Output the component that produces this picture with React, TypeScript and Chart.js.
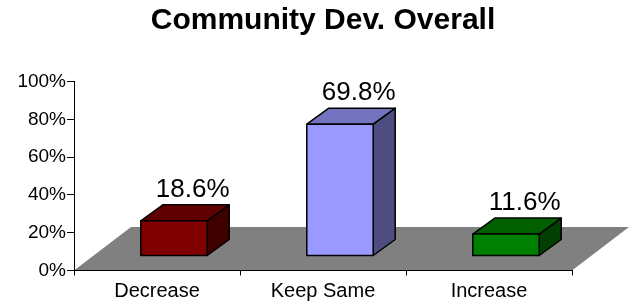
import React, { useEffect, useRef } from "react";
import { Chart, registerables } from "chart.js";

Chart.register(...registerables);

const titleText = "Community Dev. Overall";
const categories = ["Decrease", "Keep Same", "Increase"];
const values = [18.6, 69.8, 11.6];
const yTickValues = [0, 20, 40, 60, 80, 100];

const frontColors = ["#800000", "#9999FF", "#008000"];
const topColors = ["#600000", "#7373C0", "#006000"];
const sideColors = ["#400000", "#4D4D80", "#004000"];

// 3D projection constants (pixels)
const FLOOR_DX = 57;
const FLOOR_DY = -43.5;
const BAR_OFF_DX = 17;
const BAR_OFF_DY = -14.5;
const BAR_DX = 22;
const BAR_DY = -16;

const FONT = '"Liberation Sans", Arial, Helvetica, sans-serif';

const threeDPlugin = {
  id: "threeD",
  beforeDraw(chart: any) {
    const { ctx, chartArea: ca } = chart;
    ctx.save();
    ctx.fillStyle = "#808080";
    ctx.beginPath();
    ctx.moveTo(ca.left, ca.bottom);
    ctx.lineTo(ca.right, ca.bottom);
    ctx.lineTo(ca.right + FLOOR_DX, ca.bottom + FLOOR_DY);
    ctx.lineTo(ca.left + FLOOR_DX, ca.bottom + FLOOR_DY);
    ctx.closePath();
    ctx.fill();
    ctx.restore();
  },
  beforeDatasetDraw(chart: any, args: any) {
    const { ctx } = chart;
    const meta = args.meta;
    const ds = chart.data.datasets[args.index];
    ctx.save();
    ctx.lineWidth = 1.5;
    ctx.lineJoin = "round";
    ctx.strokeStyle = "#000000";
    meta.data.forEach((el: any, i: number) => {
      const { x, y, base, width } = el.getProps(["x", "y", "base", "width"], true);
      const l = x - width / 2 + BAR_OFF_DX;
      const r = x + width / 2 + BAR_OFF_DX;
      const t = y + BAR_OFF_DY;
      const b = base + BAR_OFF_DY;
      // side face
      ctx.fillStyle = sideColors[i];
      ctx.beginPath();
      ctx.moveTo(r, t);
      ctx.lineTo(r + BAR_DX, t + BAR_DY);
      ctx.lineTo(r + BAR_DX, b + BAR_DY);
      ctx.lineTo(r, b);
      ctx.closePath();
      ctx.fill();
      ctx.stroke();
      // top face
      ctx.fillStyle = topColors[i];
      ctx.beginPath();
      ctx.moveTo(l, t);
      ctx.lineTo(l + BAR_DX, t + BAR_DY);
      ctx.lineTo(r + BAR_DX, t + BAR_DY);
      ctx.lineTo(r, t);
      ctx.closePath();
      ctx.fill();
      ctx.stroke();
      // front face
      ctx.fillStyle = ds.backgroundColor[i];
      ctx.beginPath();
      ctx.rect(l, t, r - l, b - t);
      ctx.fill();
      ctx.stroke();
      // value label
      ctx.fillStyle = "#000000";
      ctx.font = `26px ${FONT}`;
      ctx.textAlign = "center";
      ctx.textBaseline = "alphabetic";
      ctx.fillText(`${ds.data[i].toFixed(1)}%`, (l + r) / 2 + BAR_DX * 0.85, t + BAR_DY - 8);
    });
    ctx.restore();
    return false;
  },
};

export default function App() {
  const canvasRef = useRef<HTMLCanvasElement | null>(null);

  useEffect(() => {
    if (!canvasRef.current) return;
    const chart = new Chart(canvasRef.current, {
      type: "bar",
      data: {
        labels: categories,
        datasets: [
          {
            data: values,
            backgroundColor: frontColors,
            categoryPercentage: 1,
            barPercentage: 0.4,
          },
        ],
      },
      plugins: [threeDPlugin],
      options: {
        responsive: false,
        animation: false,
        events: [],
        layout: { padding: { left: 0, right: 60, top: 0, bottom: 0 } },
        plugins: {
          legend: { display: false },
          tooltip: { enabled: false },
          title: {
            display: true,
            text: titleText,
            fullSize: false,
            color: "#000000",
            font: { family: FONT, size: 30, weight: "bold", lineHeight: 1.2 },
            padding: { top: 3, bottom: 42.6 },
          },
        },
        scales: {
          x: {
            grid: {
              offset: true,
              drawOnChartArea: false,
              drawTicks: true,
              tickLength: 5,
              color: "#000000",
            },
            border: { display: true, color: "#000000", width: 1 },
            ticks: {
              color: "#000000",
              font: { family: FONT, size: 20 },
              padding: 4,
              maxRotation: 0,
              autoSkip: false,
            },
            afterFit(scale: any) {
              scale.height = 35.5;
            },
          },
          y: {
            min: 0,
            max: 100,
            grid: {
              drawOnChartArea: false,
              drawTicks: true,
              tickLength: 7,
              color: "#000000",
            },
            border: { display: true, color: "#000000", width: 1 },
            afterBuildTicks(scale: any) {
              scale.ticks = yTickValues.map((v) => ({ value: v }));
            },
            ticks: {
              color: "#000000",
              font: { family: FONT, size: 19 },
              padding: 1,
              callback: (v: any) => `${v}%`,
            },
            afterFit(scale: any) {
              scale.width = 74;
            },
          },
        },
      },
    });
    return () => chart.destroy();
  }, []);

  return (
    <div style={{ position: "fixed", left: 0, top: 0, width: 632, height: 306, background: "#ffffff" }}>
      <canvas ref={canvasRef} width={632} height={306} style={{ width: 632, height: 306, display: "block" }} />
    </div>
  );
}
